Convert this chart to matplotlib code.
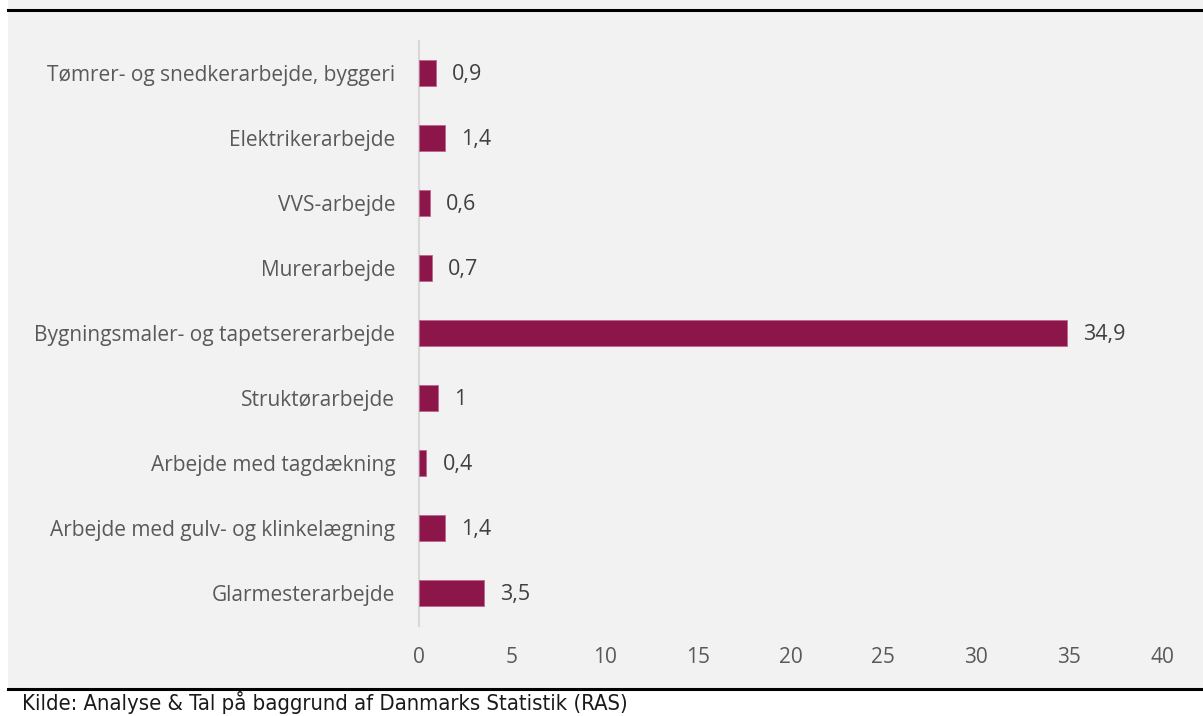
import matplotlib
matplotlib.use("Agg")
import matplotlib.pyplot as plt
from matplotlib.patches import Rectangle
from matplotlib.lines import Line2D

categories = [
    "Tømrer- og snedkerarbejde, byggeri",
    "Elektrikerarbejde",
    "VVS-arbejde",
    "Murerarbejde",
    "Bygningsmaler- og tapetsererarbejde",
    "Struktørarbejde",
    "Arbejde med tagdækning",
    "Arbejde med gulv- og klinkelægning",
    "Glarmesterarbejde",
]
values = [0.9, 1.4, 0.6, 0.7, 34.9, 1.0, 0.4, 1.4, 3.5]
xticks = [0, 5, 10, 15, 20, 25, 30, 35, 40]
source = "Kilde: Analyse & Tal på baggrund af Danmarks Statistik (RAS)"

def fmt(v):
    s = f"{v:g}"
    return s.replace(".", ",")

plt.rcParams['font.family'] = ['Open Sans', 'DejaVu Sans']

W, H = 1203, 716
fig = plt.figure(figsize=(W/100, H/100), dpi=100, facecolor="white")

# gray panel
fig.patches.append(Rectangle((8/W, 1 - 688/H), 1 - 8/W, 688/H, transform=fig.transFigure,
                             facecolor="#f2f2f2", edgecolor="none", zorder=-5))
# rules
fig.lines.append(Line2D([8/W, 1], [1 - 10/H, 1 - 10/H], transform=fig.transFigure,
                        color="black", linewidth=2.2, zorder=-4))
fig.lines.append(Line2D([8/W, 1], [1 - 689/H, 1 - 689/H], transform=fig.transFigure,
                        color="black", linewidth=2.2, zorder=-4))

ax = fig.add_axes([419/W, 1 - 625.5/H, (1162 - 419)/W, (625.5 - 40.5)/H])
ax.set_facecolor("none")
y = list(range(len(categories)))
ax.barh(y, values, height=0.4, color="#8c1549", edgecolor="#c0668e", linewidth=0.6, zorder=3)
ax.set_ylim(len(categories) - 0.5, -0.5)
ax.set_xlim(0, 40)
ax.set_yticks(y)
ax.set_yticklabels(categories)
ax.set_xticks(xticks)
ax.set_xticklabels([str(t) for t in xticks])
for sp in ["top", "right", "bottom"]:
    ax.spines[sp].set_visible(False)
ax.spines["left"].set_color("#d9d9d9")
ax.spines["left"].set_linewidth(1.6)
ax.tick_params(axis="y", length=0, pad=17, labelsize=15, labelcolor="#595959")
ax.tick_params(axis="x", length=0, pad=15.5, labelsize=15, labelcolor="#595959")

for yi, v in zip(y, values):
    ax.annotate(fmt(v), (v, yi), xytext=(11.5, -0.8), textcoords="offset points",
                va="center", ha="left", fontsize=15.5, color="#404040")

fig.text(22/W, 1 - 703/H, source, family=['DejaVu Sans'], fontstretch='condensed',
         fontsize=15.8, color="#1a1a1a", va="center", ha="left")

fig.savefig("out.png", dpi=100, facecolor="white")
